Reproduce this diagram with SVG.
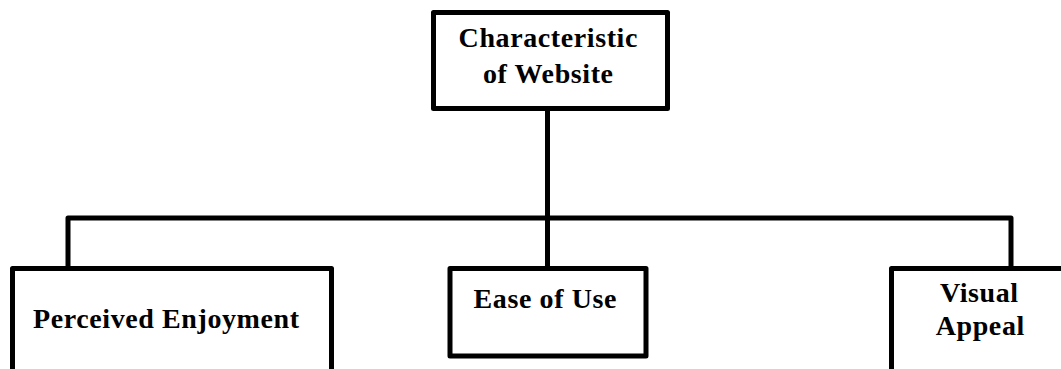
<svg xmlns="http://www.w3.org/2000/svg" width="1061" height="369" viewBox="0 0 1061 369">
  <style>
    .box { fill: #ffffff; stroke: #000000; stroke-width: 5; stroke-linejoin: round; }
    .wire { fill: none; stroke: #000000; stroke-width: 5; stroke-linejoin: round; }
    .label { font-family: "Liberation Serif", "Times New Roman", serif; font-weight: bold; font-size: 28px; letter-spacing: 0.6px; fill: #000000; text-anchor: middle; }
  </style>
  <rect x="0" y="0" width="1061" height="369" fill="#ffffff"/>

  <!-- tree connectors -->
  <g id="connectors">
    <path class="wire" d="M547.5,108.5 V268.5"/>
    <path class="wire" d="M68,268.5 V218 H1011 V268.5"/>
  </g>

  <g id="node-website">
    <rect class="box" x="433.5" y="12.5" width="234" height="96"/>
    <text class="label" x="548.3" y="47">Characteristic</text>
    <text class="label" x="548.3" y="83">of Website</text>
  </g>

  <g id="node-enjoyment">
    <rect class="box" x="12.5" y="268.5" width="319" height="150"/>
    <text class="label" x="166.3" y="328">Perceived Enjoyment</text>
  </g>

  <g id="node-ease">
    <rect class="box" x="450" y="268.5" width="196" height="87.5"/>
    <text class="label" x="545.3" y="308">Ease of Use</text>
  </g>

  <g id="node-visual">
    <rect class="box" x="891.5" y="268.5" width="220" height="150"/>
    <text class="label" x="979.3" y="302">Visual</text>
    <text class="label" x="980.3" y="335">Appeal</text>
  </g>
</svg>
